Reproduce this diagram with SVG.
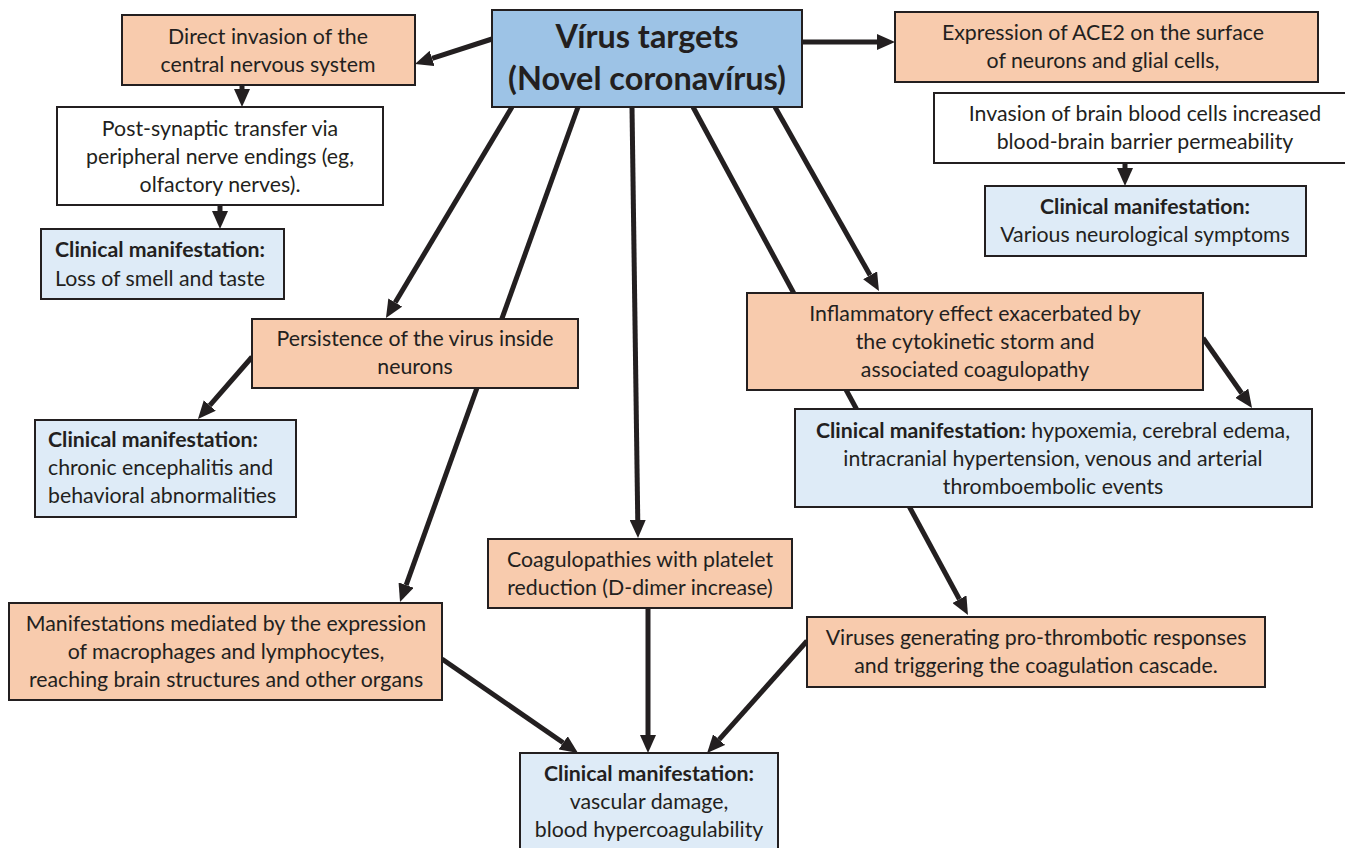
<svg xmlns="http://www.w3.org/2000/svg" width="1345" height="848" viewBox="0 0 1345 848">
<style>
  .box{stroke:#231f20;stroke-width:2}
  .or{fill:#f8cbad}
  .bl{fill:#deebf7}
  .wh{fill:#ffffff}
  .mn{fill:#9dc3e6}
  text{font-family:Lato,"Open Sans","Liberation Sans",sans-serif;font-size:21.3px;fill:#231f20}
  .c{text-anchor:middle}
  .b{font-weight:bold}
  .big{font-size:32.4px;font-weight:bold}
  .ln{stroke:#231f20;stroke-width:5;fill:none;marker-end:url(#ah)}
</style>
<defs>
  <marker id="ah" markerUnits="userSpaceOnUse" markerWidth="18" markerHeight="16" refX="0" refY="8" orient="auto">
    <path d="M0,0 L18,8 L0,16 z" fill="#231f20"/>
  </marker>
</defs>
<rect width="1345" height="848" fill="#ffffff"/>
<g id="connectors">
  <line class="ln" x1="492" y1="39" x2="432.1" y2="58.4"/>
  <line class="ln" x1="802" y1="42" x2="877" y2="42"/>
  <line class="ln" x1="242" y1="85" x2="242" y2="89"/>
  <line class="ln" x1="220" y1="205" x2="220" y2="211"/>
  <line class="ln" x1="1125" y1="163" x2="1125" y2="168"/>
  <line class="ln" x1="512" y1="107" x2="395.2" y2="302.5"/>
  <line class="ln" x1="578" y1="107" x2="406.1" y2="585.1"/>
  <line class="ln" x1="632" y1="107" x2="637.75" y2="520"/>
  <line class="ln" x1="693" y1="107" x2="959.4" y2="599.2"/>
  <line class="ln" x1="775" y1="107" x2="870.1" y2="275.3"/>
  <line class="ln" x1="1203" y1="338" x2="1241.7" y2="393.2"/>
  <line class="ln" x1="252" y1="357" x2="209.8" y2="405.4"/>
  <line class="ln" x1="442" y1="659" x2="563.2" y2="742.8"/>
  <line class="ln" x1="648" y1="608" x2="648" y2="735"/>
  <line class="ln" x1="807" y1="641" x2="719.1" y2="739.6"/>
</g>
<g id="main">
  <rect class="box mn" x="492" y="10" width="310" height="97"/>
  <text class="c big" x="647" y="48">Vírus targets</text>
  <text class="c big" x="647" y="90">(Novel coronavírus)</text>
</g>
<g id="direct">
  <rect class="box or" x="122" y="15" width="293" height="70"/>
  <text class="c" x="268" y="44">Direct invasion of the</text>
  <text class="c" x="268" y="72">central nervous system</text>
</g>
<g id="postsyn">
  <rect class="box wh" x="57" y="107" width="326" height="98"/>
  <text class="c" x="220" y="136">Post-synaptic transfer via</text>
  <text class="c" x="220" y="164">peripheral nerve endings (eg,</text>
  <text class="c" x="220" y="192">olfactory nerves).</text>
</g>
<g id="smell">
  <rect class="box bl" x="41" y="229" width="243" height="70"/>
  <text class="b" x="55" y="257">Clinical manifestation:</text>
  <text x="55" y="286">Loss of smell and taste</text>
</g>
<g id="ace2">
  <rect class="box or" x="895" y="12" width="423" height="70"/>
  <text class="c" x="1103" y="40">Expression of ACE2 on the surface</text>
  <text class="c" x="1103" y="68">of neurons and glial cells,</text>
</g>
<g id="bbb">
  <rect class="box wh" x="934" y="93" width="420" height="70"/>
  <text class="c" x="1145" y="121">Invasion of brain blood cells increased</text>
  <text class="c" x="1145" y="149">blood-brain barrier permeability</text>
</g>
<g id="neuro">
  <rect class="box bl" x="985" y="186" width="321" height="70"/>
  <text class="c b" x="1145" y="214">Clinical manifestation:</text>
  <text class="c" x="1145" y="242">Various neurological symptoms</text>
</g>
<g id="persist">
  <rect class="box or" x="252" y="319" width="326" height="69"/>
  <text class="c" x="415" y="346">Persistence of the virus inside</text>
  <text class="c" x="415" y="374">neurons</text>
</g>
<g id="chronic">
  <rect class="box bl" x="35" y="420" width="261" height="97"/>
  <text class="b" x="48" y="447">Clinical manifestation:</text>
  <text x="48" y="475">chronic encephalitis and</text>
  <text x="48" y="503">behavioral abnormalities</text>
</g>
<g id="inflam">
  <rect class="box or" x="747" y="293" width="456" height="97"/>
  <text class="c" x="975" y="321">Inflammatory effect exacerbated by</text>
  <text class="c" x="975" y="349">the cytokinetic storm and</text>
  <text class="c" x="975" y="377">associated coagulopathy</text>
</g>
<g id="hypox">
  <rect class="box bl" x="795" y="409" width="517" height="98"/>
  <text class="c" x="1053" y="438"><tspan class="b">Clinical manifestation:</tspan> hypoxemia, cerebral edema,</text>
  <text class="c" x="1053" y="466">intracranial hypertension, venous and arterial</text>
  <text class="c" x="1053" y="494">thromboembolic events</text>
</g>
<g id="coag">
  <rect class="box or" x="488" y="539" width="304" height="69"/>
  <text class="c" x="640" y="567">Coagulopathies with platelet</text>
  <text class="c" x="640" y="595">reduction (D-dimer increase)</text>
</g>
<g id="macro">
  <rect class="box or" x="9" y="603" width="433" height="97"/>
  <text class="c" x="226" y="631">Manifestations mediated by the expression</text>
  <text class="c" x="226" y="659">of macrophages and lymphocytes,</text>
  <text class="c" x="226" y="687">reaching brain structures and other organs</text>
</g>
<g id="prothromb">
  <rect class="box or" x="807" y="617" width="458" height="70"/>
  <text class="c" x="1036" y="645">Viruses generating pro-thrombotic responses</text>
  <text class="c" x="1036" y="673">and triggering the coagulation cascade.</text>
</g>
<g id="vascular">
  <rect class="box bl" x="520" y="753" width="258" height="100"/>
  <text class="c b" x="649" y="781">Clinical manifestation:</text>
  <text class="c" x="649" y="809">vascular damage,</text>
  <text class="c" x="649" y="837">blood hypercoagulability</text>
</g>
</svg>
